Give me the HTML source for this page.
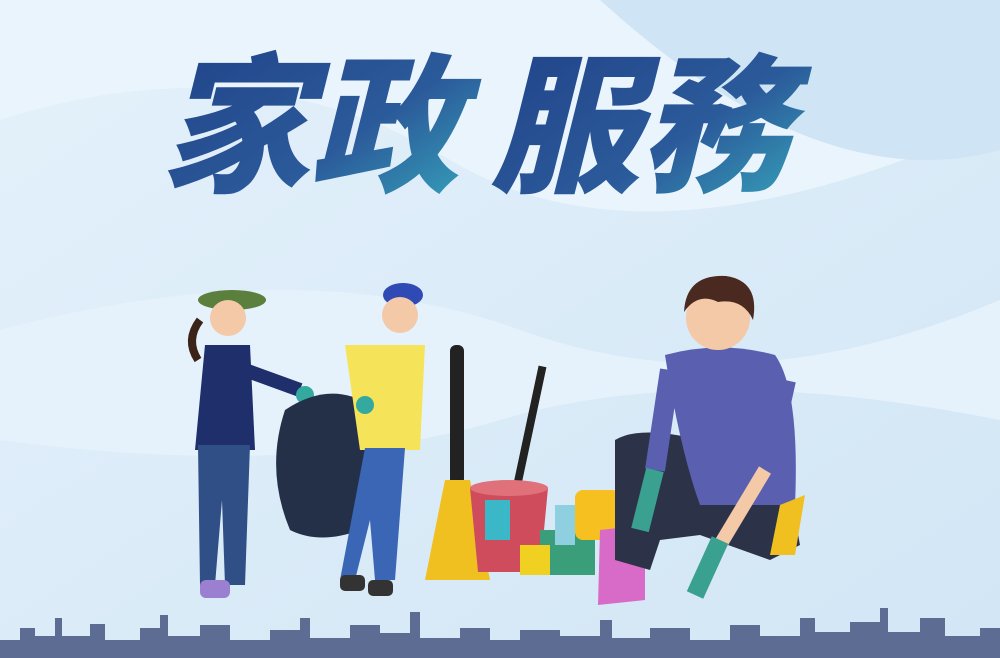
<!DOCTYPE html>
<html><head><meta charset="utf-8"><style>
html,body{margin:0;padding:0;width:1000px;height:658px;overflow:hidden;background:#dcecf8}
svg{display:block}
</style></head><body>
<svg width="1000" height="658" viewBox="0 0 1000 658">
<defs>
<linearGradient id="bg" x1="0" y1="0" x2="1" y2="1"><stop offset="0" stop-color="#e4f1fb"/><stop offset="1" stop-color="#d2e6f5"/></linearGradient>
<linearGradient id="tg" x1="0" y1="0" x2="1" y2="1"><stop offset="0" stop-color="#1f3f86"/><stop offset="0.6" stop-color="#2b5a9a"/><stop offset="1" stop-color="#38b0c0"/></linearGradient>
</defs>
<rect width="1000" height="658" fill="url(#bg)"/>
<path d="M0 120 Q250 40 450 160 T1000 120 L1000 0 L0 0Z" fill="#eaf4fc"/>
<path d="M0 330 Q300 250 520 330 T1000 300 L1000 420 Q700 360 500 420 T0 440Z" fill="#e6f2fb"/>
<path d="M600 0 Q820 200 1000 150 L1000 0Z" fill="#cfe4f4"/>
<g font-family="'Noto Sans CJK TC','Noto Sans CJK SC',sans-serif" font-weight="900" font-size="150" fill="url(#tg)" font-style="italic">
<text x="160" y="180">家政</text>
<text x="490" y="180">服務</text>
</g>
<g>
<ellipse cx="232" cy="300" rx="34" ry="10" fill="#5b7f3c"/>
<circle cx="228" cy="318" r="18" fill="#f3c9a8"/>
<path d="M200 320 q-15 20 -2 40" stroke="#3a2418" stroke-width="8" fill="none"/>
<path d="M205 345 L250 345 L255 450 L195 450Z" fill="#1e2f6b"/>
<path d="M198 445 L250 445 L245 585 L225 585 L222 500 L215 585 L200 585Z" fill="#2f4f86"/>
<rect x="200" y="580" width="30" height="18" rx="6" fill="#9b7fd0"/>
<path d="M245 370 L300 390" stroke="#1e2f6b" stroke-width="14"/>
<circle cx="305" cy="395" r="9" fill="#33a9a0"/>
</g>
<path d="M285 410 Q330 380 370 405 Q395 470 360 530 Q320 545 290 530 Q265 470 285 410Z" fill="#243048"/>
<g>
<ellipse cx="403" cy="295" rx="20" ry="12" fill="#2f49b5"/>
<circle cx="400" cy="315" r="18" fill="#f3c9a8"/>
<path d="M345 345 L425 345 L420 450 L360 450Z" fill="#f5e45a"/>
<path d="M365 448 L405 448 L395 580 L375 580 L370 520 L355 580 L340 580Z" fill="#3a66b5"/>
<rect x="340" y="575" width="25" height="16" rx="5" fill="#333"/>
<rect x="368" y="580" width="25" height="16" rx="5" fill="#333"/>
<circle cx="365" cy="405" r="9" fill="#33a9a0"/>
</g>
<g>
<rect x="450" y="345" width="14" height="140" rx="6" fill="#222"/>
<path d="M445 480 L470 480 L490 580 L425 580Z" fill="#f0c020"/>
<rect x="525" y="365" width="8" height="130" fill="#222" transform="rotate(12 529 430)"/>
<path d="M470 488 L548 488 L540 572 L478 572Z" fill="#cf4c5c"/>
<ellipse cx="509" cy="488" rx="39" ry="8" fill="#e0707a"/>
<rect x="485" y="500" width="25" height="40" fill="#3bb8c8"/>
<rect x="540" y="530" width="55" height="45" fill="#3a9e7a"/>
<rect x="575" y="490" width="45" height="50" rx="8" fill="#f5c020"/>
<rect x="555" y="505" width="20" height="40" fill="#8ed0e0"/>
<rect x="520" y="545" width="30" height="30" fill="#f0d020"/>
<path d="M600 530 L645 525 L645 600 L598 605Z" fill="#d86ac8"/>
</g>
<g>
<path d="M615 440 Q640 425 700 440 L790 490 L800 545 L770 560 L700 535 L660 540 L650 570 L615 560 Z" fill="#2c3348"/>
<path d="M665 355 Q720 340 775 355 Q800 390 795 505 L700 505 Q680 450 665 355Z" fill="#5a5fb0"/>
<circle cx="718" cy="318" r="32" fill="#f3c9a8"/>
<path d="M684 312 q2 -38 42 -36 q34 5 27 44 q-10 -22 -35 -18 q-20 -10 -34 10Z" fill="#4a2a20"/>
<path d="M780 505 L805 495 L795 555 L770 555Z" fill="#f0c020"/>
<path d="M670 370 L655 470" stroke="#5a5fb0" stroke-width="20"/>
<path d="M655 470 L640 530" stroke="#3aa090" stroke-width="18"/>
<path d="M785 380 L765 470" stroke="#5a5fb0" stroke-width="22"/>
<path d="M765 470 L720 545" stroke="#f3c9a8" stroke-width="14"/>
<path d="M720 540 L695 595" stroke="#3aa090" stroke-width="18"/>
</g>
<g fill="#5d6c92">
<path d="M0 658 L0 640 L20 640 L20 628 L35 628 L35 636 L55 636 L55 618 L62 618 L62 636 L90 636 L90 624 L105 624 L105 640 L140 640 L140 628 L160 628 L160 615 L168 615 L168 636 L200 636 L200 625 L230 625 L230 640 L270 640 L270 630 L300 630 L300 618 L310 618 L310 638 L350 638 L350 625 L380 625 L380 633 L410 633 L410 612 L420 612 L420 638 L460 638 L460 628 L490 628 L490 640 L520 640 L520 630 L560 630 L560 636 L600 636 L600 620 L612 620 L612 638 L650 638 L650 628 L690 628 L690 640 L730 640 L730 625 L760 625 L760 636 L800 636 L800 618 L815 618 L815 632 L850 632 L850 622 L880 622 L880 608 L888 608 L888 632 L920 632 L920 618 L945 618 L945 636 L980 636 L980 628 L1000 628 L1000 658Z"/>
</g>
</svg>
</body></html>
